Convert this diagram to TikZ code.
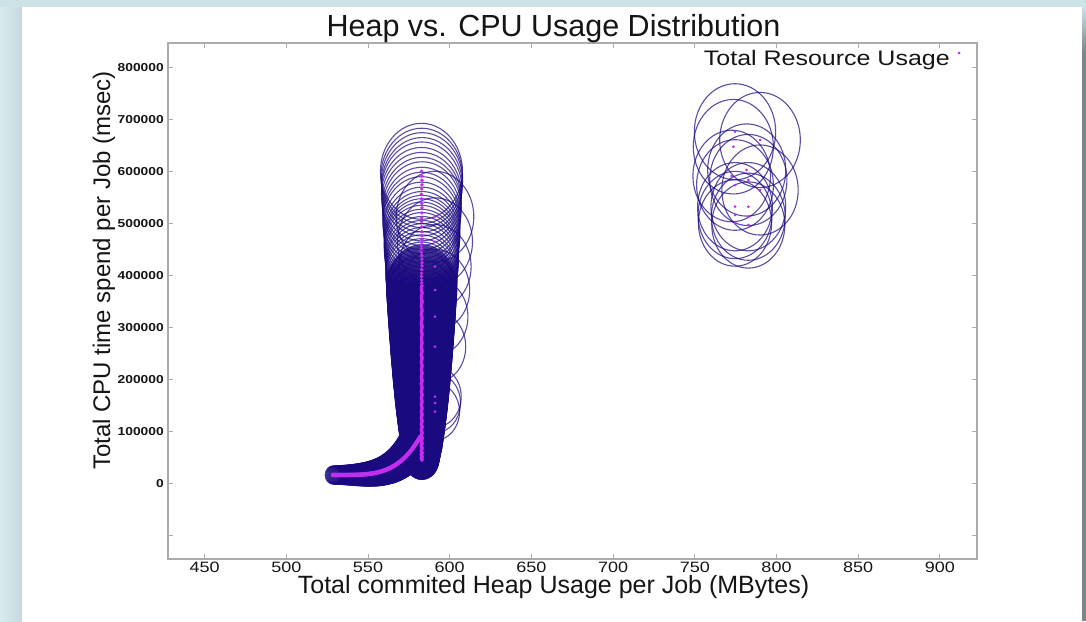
\documentclass[tikz,border=0pt]{standalone}
\usepackage{fontspec}
\setmainfont{Liberation Sans}
\definecolor{bgblue}{HTML}{CDE2E7}
\definecolor{bgleft}{HTML}{D8ECF0}
\definecolor{bgleftdark}{HTML}{C4D9DE}
\definecolor{edgegray}{HTML}{798787}
\definecolor{framegray}{HTML}{ABABAB}
\definecolor{bubble}{RGB}{26,10,128}
\definecolor{dotmag}{RGB}{195,45,240}
\definecolor{inkblack}{HTML}{151515}

\begin{document}
\begin{tikzpicture}[x=1pt,y=-1pt,
  bubblering/.style={draw=bubble, line width=1.1pt, draw opacity=0.72},
  densering/.style={draw=bubble, line width=1.3pt, draw opacity=0.75, fill=bubble, fill opacity=0.05},
  datadot/.style={fill=dotmag, draw=none},
  axisframe/.style={draw=framegray, line width=1.8pt},
  tickmark/.style={draw=framegray, line width=1pt},
  xticklab/.style={font=\fontsize{15}{15}\selectfont, text=inkblack, anchor=base, xscale=1.2, inner sep=0pt},
  yticklab/.style={font=\bfseries\fontsize{11.5}{11.5}\selectfont, text=inkblack, anchor=east, xscale=1.2, inner sep=0pt},
  titletext/.style={font=\fontsize{30.5}{30.5}\selectfont, text=inkblack, anchor=base, inner sep=0pt},
  axislab/.style={font=\fontsize{25}{25}\selectfont, text=inkblack, anchor=base, inner sep=0pt},
  legendtext/.style={font=\fontsize{21}{21}\selectfont, text=inkblack, anchor=base east, xscale=1.19, inner sep=0pt}
]
\useasboundingbox (0,0) rectangle (1086,621);

% slide background and white panel
\fill[bgblue] (0,0) rectangle (1086,621);
\shade[left color=bgleft, right color=bgleftdark] (0,7) rectangle (22,621);
\fill[white] (22,7) rectangle (1082,621);
\shade[top color=bgblue, bottom color=edgegray] (1082,7) rectangle (1086,52);
\fill[edgegray] (1082,52) rectangle (1086,621);

% axes box
\draw[axisframe] (168,43) rectangle (977,559);

% x ticks and labels
\foreach \v in {450,500,...,900}{
  \pgfmathsetmacro\px{204.6+(\v-450)*1.634}
  \draw[tickmark] (\px,559) -- (\px,554);
  \draw[tickmark] (\px,43) -- (\px,48);
  \node[xticklab] (xt\v) at (\px,572.5) {\v};
}

% y ticks and labels
\foreach \k in {-1,0,...,8}{
  \pgfmathsetmacro\py{483.3-52*\k}
  \draw[tickmark] (168,\py) -- (173,\py);
  \draw[tickmark] (977,\py) -- (972,\py);
}
\node[yticklab] (yt0) at (164,483.3) {0};
\foreach \k in {1,...,8}{
  \pgfmathsetmacro\py{483.3-52*\k}
  \node[yticklab] (yt\k) at (164,\py) {\k00000};
}

% titles
\node[titletext] (title) at (553.5,36) {Heap vs. CPU Usage Distribution};
\node[axislab] (xlabel) at (553.5,593.5) {Total commited Heap Usage per Job (MBytes)};
\node[axislab, font=\fontsize{24}{24}\selectfont, rotate=90] (ylabel) at (110,270.5) {Total CPU time spend per Job (msec)};

% legend
\node[legendtext] (legend) at (950,65) {Total Resource Usage};
\fill[datadot] (959,53) circle (1.5pt);

% ---- bubbles: marker size grows with CPU time ----
% tail of small jobs at low heap
\foreach \i in {0,...,90}{
  \pgfmathsetmacro\t{\i/90}
  \pgfmathsetmacro\px{333+87*\t}
  \pgfmathsetmacro\py{475-38*\t^4}
  \pgfmathsetmacro\ry{9+12*\t^1.5}
  \pgfmathsetmacro\rx{\ry/1.17}
  \draw[densering] (\px,\py) ellipse [x radius=\rx pt, y radius=\ry pt];
}
% main column near 583 MB, densely populated part
\foreach \i in {0,...,200}{
  \pgfmathsetmacro\c{45+335*(\i/200)^1.3}
  \pgfmathsetmacro\py{483.3-0.52*\c}
  \pgfmathsetmacro\px{421.7+0.3*sin(\i*47)}
  \pgfmathsetmacro\rx{41*(\c/600)^0.35}
  \pgfmathsetmacro\ry{1.17*\rx}
  \draw[densering] (\px,\py) ellipse [x radius=\rx pt, y radius=\ry pt];
}
% main column, thinning out towards the top
\foreach \c in {385,391,398,404,411,418,424,431,438,444,451,457,463,469,476,484,493,503,511,520,530,538,547,556,566,574,583,591,600}{
  \pgfmathsetmacro\py{483.3-0.52*\c}
  \pgfmathsetmacro\px{421.7+0.3*sin(\c*7)}
  \pgfmathsetmacro\rx{41*(\c/600)^0.35}
  \pgfmathsetmacro\ry{1.17*\rx}
  \draw[bubblering] (\px,\py) ellipse [x radius=\rx pt, y radius=\ry pt];
}
% second column near 591 MB
\foreach \py in {216.7,241.7,266.7,290,316.7,346.7,396.7,403,411.7}{
  \pgfmathsetmacro\c{(483.3-\py)/0.52}
  \pgfmathsetmacro\rx{41*(\c/600)^0.35}
  \pgfmathsetmacro\ry{1.17*\rx}
  \draw[bubblering] (435,\py) ellipse [x radius=\rx pt, y radius=\ry pt];
}
% cluster near 780 MB
\foreach \px/\py in {735/131.7,760/140,733.3/146.7,731.7/176,746.7/170,735/185,748.3/180,760/190,735/206.7,748.3/206.7,735/215,748.3/216.7,748.3/225,735/223}{
  \pgfmathsetmacro\c{(483.3-\py)/0.52}
  \pgfmathsetmacro\rx{39*(\c/600)^0.35}
  \pgfmathsetmacro\ry{1.18*\rx}
  \draw[bubblering] (\px,\py) ellipse [x radius=\rx pt, y radius=\ry pt];
}

% ---- data points ----
\foreach \i in {0,...,90}{
  \pgfmathsetmacro\t{\i/90}
  \pgfmathsetmacro\px{333+87*\t}
  \pgfmathsetmacro\py{475-38*\t^4}
  \fill[datadot] (\px,\py) circle (2.3pt);
}
\foreach \i in {0,...,200}{
  \pgfmathsetmacro\c{45+335*(\i/200)^1.3}
  \pgfmathsetmacro\py{483.3-0.52*\c}
  \pgfmathsetmacro\px{421.7+0.3*sin(\i*47)}
  \fill[datadot] (\px,\py) circle (1.9pt);
}
\foreach \c in {385,391,398,404,411,418,424,431,438,444,451,457,463,469,476,484,493,503,511,520,530,538,547,556,566,574,583,591,600}{
  \pgfmathsetmacro\py{483.3-0.52*\c}
  \pgfmathsetmacro\px{421.7+0.3*sin(\c*7)}
  \fill[datadot] (\px,\py) circle (1.9pt);
}
\foreach \py in {216.7,241.7,266.7,290,316.7,346.7,396.7,403,411.7}{
  \fill[datadot] (435,\py) circle (1.5pt);
}
\foreach \px/\py in {735/131.7,760/140,733.3/146.7,731.7/176,746.7/170,735/185,748.3/180,760/190,735/206.7,748.3/206.7,735/215,748.3/216.7,748.3/225,735/223}{
  \fill[datadot] (\px,\py) circle (1.5pt);
}
\end{tikzpicture}
\end{document}
